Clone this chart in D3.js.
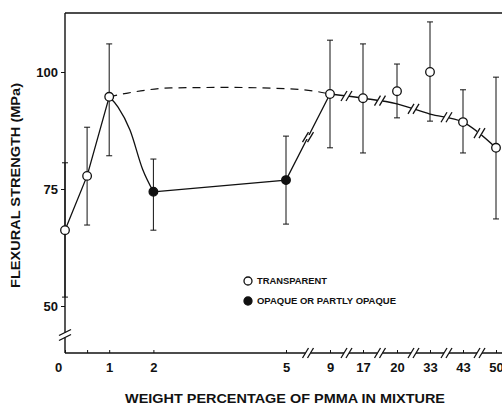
<!DOCTYPE html>
<html>
<head>
<meta charset="utf-8">
<script src="https://cdn.jsdelivr.net/npm/d3@7"></script>
<style>
  body { margin: 0; background: #fff; }
  svg { display: block; }
  text { font-family: "Liberation Sans", Arial, Helvetica, sans-serif; font-weight: bold; fill: #111; }
</style>
</head>
<body>
<div id="chart"></div>
<script>
// measured points (wt % PMMA -> flexural strength, MPa)
const pmma     = [0, 0.5, 1, 2, 5, 9, 17, 20, 33, 43, 50];
const strength = [66.2, 77.8, 94.7, 74.4, 76.9, 95.3, 94.4, 95.9, 100.0, 89.3, 83.8];
const errLow   = [51.9, 67.3, 82.1, 66.2, 67.5, 83.8, 82.7, 90.2, 89.5, 82.7, 68.6];
const errHigh  = [80.6, 88.2, 106.0, 81.4, 86.3, 106.8, 106.0, 101.7, 110.7, 96.2, 98.9];
const opaque   = [false, false, false, true, true, false, false, false, false, false, false];

// hand-drawn solid line, low PMMA: straight 0 -> 1, bowed 1 -> 2, straight 2 -> 5 -> 9
const riseX = [0, 0.5, 1];
const riseY = [66.2, 77.8, 94.7];
const dropX = [1, 1.2, 1.47, 1.76, 2];
const dropY = [94.7, 92.5, 87.6, 79.1, 74.4];
const flatX = [2, 5, 9];
const flatY = [74.4, 76.9, 95.3];
// fitted curve for the high-PMMA mixtures
const fitX = [9, 17, 20, 33, 43, 50];
const fitY = [95.3, 94.4, 93.2, 91.0, 89.3, 83.8];
// dashed trend 1 % -> 9 %
const dashX = [1, 1.42, 2.4, 3.7, 5.4, 7.6, 9];
const dashY = [94.7, 95.5, 96.6, 96.7, 96.4, 95.9, 95.3];

const xTicks = [0, 0.5, 1, 2, 5, 9, 17, 20, 33, 43, 50];
const xTickLabels = ["0", "", "1", "2", "5", "9", "17", "20", "33", "43", "50"];
const xBreakAfter = [5, 9, 17, 20, 33, 43];   // an axis break follows each of these
const yTicks = [50, 75, 100];

const legendLabels = ["TRANSPARENT", "OPAQUE OR PARTLY OPAQUE"];

const width = 502, height = 405;
const plotLeft = 65, plotTop = 13, plotBottom = 353;

const svg = d3.select("#chart").append("svg")
    .attr("width", width).attr("height", height);

// piecewise scale: linear up to 5 %, then evenly spaced categories
const x = d3.scaleLinear()
    .domain([0, 5, 9, 17, 20, 33, 43, 50])
    .range([plotLeft, 286, 330, 363, 397, 430, 463, 496]);
const y = d3.scaleLinear().domain([50, 100]).range([306, 72]);

// frame: top line + left + bottom
svg.append("line").attr("x1", plotLeft).attr("x2", width).attr("y1", plotTop).attr("y2", plotTop)
    .attr("stroke", "#111").attr("stroke-width", 1.4);
svg.append("line").attr("x1", plotLeft).attr("x2", plotLeft).attr("y1", plotTop).attr("y2", plotBottom)
    .attr("stroke", "#111").attr("stroke-width", 1.4);
svg.append("line").attr("x1", plotLeft).attr("x2", width).attr("y1", plotBottom).attr("y2", plotBottom)
    .attr("stroke", "#111").attr("stroke-width", 1.4);

// axes (ticks + labels only)
const xAxis = svg.append("g")
    .attr("transform", `translate(0,${plotBottom})`)
    .call(d3.axisBottom(x).tickValues(xTicks).tickFormat((d, i) => xTickLabels[i])
        .tickSize(-3).tickPadding(10));
xAxis.select(".domain").remove();
xAxis.selectAll("line").attr("stroke", "#111");
xAxis.selectAll("text").style("font-size", "13px").attr("fill", "#111")
    .attr("dx", d => d === 0 ? -7 : 0);

const yAxis = svg.append("g")
    .attr("transform", `translate(${plotLeft},0)`)
    .call(d3.axisLeft(y).tickValues(yTicks).tickSize(4).tickPadding(3));
yAxis.select(".domain").remove();
yAxis.selectAll("line").attr("stroke", "#111");
yAxis.selectAll("text").style("font-size", "13px").attr("fill", "#111");

// break marks helper: white gap + two slanted strokes
function breakMark(cx, cy, horizontalAxis) {
    const g = svg.append("g");
    if (horizontalAxis) {
        g.append("line").attr("x1", cx - 2.5).attr("x2", cx + 2.5).attr("y1", cy).attr("y2", cy)
            .attr("stroke", "#fff").attr("stroke-width", 4);
        [-2.5, 2.5].forEach(o => g.append("line")
            .attr("x1", cx + o - 3).attr("y1", cy + 5).attr("x2", cx + o + 3).attr("y2", cy - 5)
            .attr("stroke", "#111").attr("stroke-width", 1.3));
    } else {
        g.append("line").attr("x1", cx).attr("x2", cx).attr("y1", cy - 2.5).attr("y2", cy + 2.5)
            .attr("stroke", "#fff").attr("stroke-width", 4);
        [-2.5, 2.5].forEach(o => g.append("line")
            .attr("x1", cx - 6).attr("y1", cy + o + 3).attr("x2", cx + 6).attr("y2", cy + o - 3)
            .attr("stroke", "#111").attr("stroke-width", 1.3));
    }
}

xBreakAfter.forEach(v => {
    const next = xTicks[xTicks.indexOf(v) + 1];
    breakMark((x(v) + x(next)) / 2, plotBottom, true);
});
breakMark(plotLeft, 335, false);

// curves
function drawCurve(xs, ys, curve, extra) {
    const line = d3.line().x((d, i) => x(xs[i])).y(d => y(d)).curve(curve);
    const p = svg.append("path").datum(ys).attr("d", line)
        .attr("fill", "none").attr("stroke", "#111").attr("stroke-width", 1.3);
    if (extra) extra(p);
    return p;
}

drawCurve(riseX, riseY, d3.curveLinear);
drawCurve(dropX, dropY, d3.curveMonotoneX);
const flatPath = drawCurve(flatX, flatY, d3.curveLinear);
const fitPath = drawCurve(fitX, fitY, d3.curveMonotoneX, p => p.attr("stroke-width", 1.4));
drawCurve(dashX, dashY, d3.curveMonotoneX, p => p.attr("stroke-width", 1.2).attr("stroke-dasharray", "8,6"));

// find y on a path for a given x
function yOnPath(node, px) {
    const len = node.getTotalLength();
    let lo = 0, hi = len;
    for (let k = 0; k < 30; k++) {
        const mid = (lo + hi) / 2;
        if (node.getPointAtLength(mid).x < px) lo = mid; else hi = mid;
    }
    return node.getPointAtLength(lo).y;
}

// breaks on the curves
const jb = (x(5) + x(9)) / 2;
breakMark(jb, yOnPath(flatPath.node(), jb), true);
fitX.slice(0, -1).forEach((v, i) => {
    const bx = (x(v) + x(fitX[i + 1])) / 2;
    breakMark(bx, yOnPath(fitPath.node(), bx), true);
});

// error bars
const pts = pmma.map((p, i) => ({ p, v: strength[i], lo: errLow[i], hi: errHigh[i], opaque: opaque[i] }));
const eb = svg.append("g").attr("stroke", "#111").attr("stroke-width", 1);
pts.forEach(d => {
    const cx = x(d.p);
    eb.append("line").attr("x1", cx).attr("x2", cx).attr("y1", y(d.lo)).attr("y2", y(d.hi));
    [d.lo, d.hi].forEach(v => eb.append("line")
        .attr("x1", cx - 3).attr("x2", cx + 3).attr("y1", y(v)).attr("y2", y(v)));
});

// markers
svg.selectAll("circle.pt").data(pts).enter().append("circle")
    .attr("class", "pt")
    .attr("cx", d => x(d.p)).attr("cy", d => y(d.v)).attr("r", 4.3)
    .attr("fill", d => d.opaque ? "#111" : "#fff")
    .attr("stroke", "#111").attr("stroke-width", 1.3);

// legend
const legendWidths = [70, 139];
const legend = svg.append("g").attr("transform", "translate(248,281)");
legendLabels.forEach((t, i) => {
    legend.append("circle").attr("cx", 0).attr("cy", i * 20).attr("r", 4)
        .attr("fill", i === 1 ? "#111" : "#fff").attr("stroke", "#111").attr("stroke-width", 1.3);
    legend.append("text").attr("x", 9).attr("y", i * 20).attr("dy", "0.35em")
        .attr("textLength", legendWidths[i]).attr("lengthAdjust", "spacingAndGlyphs")
        .style("font-size", "9px").text(t);
});

// axis titles
svg.append("text")
    .attr("x", 125).attr("y", 403)
    .attr("textLength", 320).attr("lengthAdjust", "spacingAndGlyphs")
    .style("font-size", "13px")
    .text("WEIGHT PERCENTAGE OF PMMA IN MIXTURE");

svg.append("text")
    .attr("transform", "translate(15,288) rotate(-90)")
    .attr("dy", "0.35em")
    .attr("textLength", 205).attr("lengthAdjust", "spacingAndGlyphs")
    .style("font-size", "13px")
    .text("FLEXURAL STRENGTH (MPa)");
</script>
</body>
</html>
